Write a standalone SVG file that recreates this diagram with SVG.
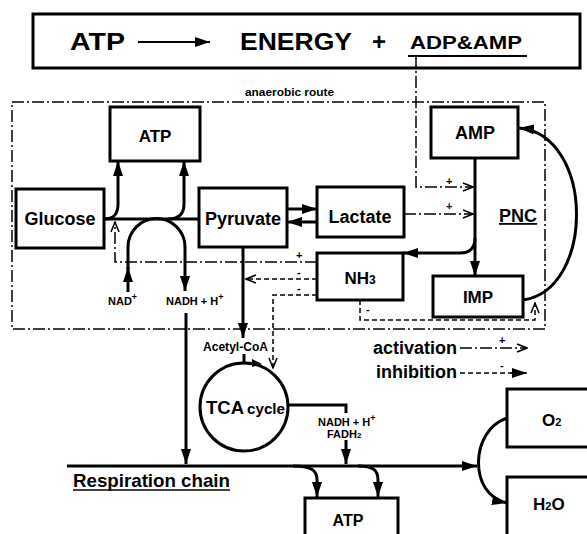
<svg xmlns="http://www.w3.org/2000/svg" width="587" height="534" viewBox="0 0 587 534">
<style>
text{font-family:"Liberation Sans",Arial,sans-serif;font-weight:bold;fill:#000}
.box{fill:#fff;stroke:#000;stroke-width:3}
.thick{fill:none;stroke:#000;stroke-width:3}
.thin{fill:none;stroke:#000;stroke-width:1.5}
.dd{fill:none;stroke:#000;stroke-width:1.5;stroke-dasharray:12 3 2 3}
.ds{fill:none;stroke:#000;stroke-width:1.5;stroke-dasharray:5 3}
.lbl{font-size:18px}
.sm{font-size:11px}
.sign{font-size:11px}
</style>
<defs>
<marker id="fa" markerUnits="userSpaceOnUse" markerWidth="16" markerHeight="10" refX="15" refY="5" orient="auto">
<path d="M0,0 L15,5 L0,10 Z" fill="#000"/>
</marker>
<marker id="oa" markerUnits="userSpaceOnUse" markerWidth="12" markerHeight="10" refX="11" refY="5" orient="auto">
<path d="M1,1 L11,5 L1,9" fill="none" stroke="#000" stroke-width="1.5"/>
</marker>
</defs>
<rect width="587" height="534" fill="#fff"/>

<g id="top-box">
<rect x="33" y="14" width="547" height="54" class="box"/>
<text x="70" y="50" font-size="24" textLength="55" lengthAdjust="spacingAndGlyphs">ATP</text>
<text x="240" y="50" font-size="24" textLength="112" lengthAdjust="spacingAndGlyphs">ENERGY</text>
<text x="372" y="50" font-size="24">+</text>
<text x="410" y="49" font-size="19" textLength="112" lengthAdjust="spacingAndGlyphs">ADP&amp;AMP</text>
<line x1="408" y1="56" x2="527" y2="56" stroke="#000" stroke-width="2"/>
</g>

<g id="anaerobic-route">
<rect x="12" y="102" width="533" height="227" class="dd"/>
<text x="245" y="96" font-size="10" textLength="89" lengthAdjust="spacingAndGlyphs">anaerobic route</text>
</g>

<g id="connectors">
<line x1="138" y1="42" x2="210" y2="42" stroke="#000" stroke-width="2" marker-end="url(#fa)"/>
<path d="M416,56 V187 H473" class="dd" marker-end="url(#oa)"/>
<text x="446" y="185" class="sign">+</text>
<path d="M404,214 H473" class="dd" marker-end="url(#oa)"/>
<text x="446" y="210" class="sign">+</text>
<path d="M104,219 H199" class="thick"/>
<path d="M104,219 C114,219 118,214 118,204 V161" class="thick" marker-end="url(#fa)"/>
<path d="M168,219 C179,219 184,214 184,204 V161" class="thick" marker-end="url(#fa)"/>
<path d="M128,292 V267" class="thick" marker-end="url(#fa)"/>
<path d="M128,270 V247 A28.5,28.5 0 0 1 185,247 V291" class="thick" marker-end="url(#fa)"/>
<path d="M287,209 H317" class="thick" marker-end="url(#fa)"/>
<path d="M317,222 H287" class="thick" marker-end="url(#fa)"/>
<path d="M317,262 H115 V222" class="dd" marker-end="url(#oa)"/>
<text x="296" y="259" class="sign">+</text>
<path d="M317,279 H246" class="ds" marker-end="url(#oa)"/>
<text x="297" y="276" class="sign">-</text>
<path d="M317,295 H273 V368" class="ds" marker-end="url(#oa)"/>
<text x="297" y="292" class="sign">-</text>
<path d="M243,247 V338" class="thick" marker-end="url(#fa)"/>
<path d="M244,354 V363" class="thick"/>
<path d="M475,158 V276" class="thick" marker-end="url(#fa)"/>
<path d="M475,238 Q475,253 460,253 H403" class="thick" marker-end="url(#fa)"/>
<path d="M523,300 C595,290 595,135 519,128" class="thick" marker-end="url(#fa)"/>
<path d="M360,300 V320 H535 V303" class="ds" marker-end="url(#oa)"/>
<text x="366" y="313" class="sign">-</text>
<path d="M288,405 H346 V413" class="thick"/>
<path d="M346,440 V464" class="thick" marker-end="url(#fa)"/>
<path d="M186,313 V464" class="thick" marker-end="url(#fa)"/>
<path d="M67,466 H477" class="thick" marker-end="url(#fa)"/>
<path d="M293,466 C311,466 317,470 317,480 V497" class="thick" marker-end="url(#fa)"/>
<path d="M358,466 C373,466 378,470 378,480 V497" class="thick" marker-end="url(#fa)"/>
<path d="M507,418 C470,430 468,495 507,503" class="thick" marker-end="url(#fa)"/>
<path d="M460,348 H527" class="dd" marker-end="url(#oa)"/>
<text x="499" y="344" class="sign">+</text>
<path d="M460,373 H514" class="ds"/>
<path d="M511,373 H527" stroke="#000" stroke-width="1.5" marker-end="url(#fa)"/>
<text x="500" y="369" class="sign">-</text>
</g>

<g id="atp-top">
<rect x="110" y="107" width="90" height="54" class="box"/>
<text x="155" y="142" font-size="17" text-anchor="middle">ATP</text>
</g>
<g id="glucose">
<rect x="16" y="189" width="88" height="59" class="box"/>
<text x="60" y="225" class="lbl" text-anchor="middle">Glucose</text>
</g>
<g id="pyruvate">
<rect x="199" y="188" width="88" height="59" class="box"/>
<text x="243" y="225" class="lbl" text-anchor="middle">Pyruvate</text>
</g>
<g id="lactate">
<rect x="317" y="187" width="87" height="50" class="box"/>
<text x="360" y="223" class="lbl" text-anchor="middle">Lactate</text>
</g>
<g id="nh3">
<rect x="317" y="253" width="86" height="47" class="box"/>
<text x="360" y="284" font-size="17" text-anchor="middle">NH<tspan font-size="12">3</tspan></text>
</g>
<g id="amp">
<rect x="431" y="107" width="87" height="51" class="box"/>
<text x="475" y="139" class="lbl" text-anchor="middle">AMP</text>
</g>
<g id="imp">
<rect x="433" y="276" width="90" height="41" class="box"/>
<text x="478" y="303" font-size="17" text-anchor="middle">IMP</text>
</g>
<g id="pnc">
<text x="499" y="222" font-size="18" text-decoration="underline">PNC</text>
</g>
<g id="labels">
<text x="108" y="305" class="sm">NAD<tspan dy="-5" font-size="9">+</tspan></text>
<text x="166" y="305" class="sm">NADH + H<tspan dy="-5" font-size="9">+</tspan></text>
<text x="203" y="351" font-size="12" textLength="65" lengthAdjust="spacingAndGlyphs">Acetyl-CoA</text>
<text x="318" y="426" class="sm">NADH + H<tspan dy="-5" font-size="9">+</tspan></text>
<text x="327" y="438" class="sm">FADH<tspan font-size="8">2</tspan></text>
</g>
<g id="tca">
<circle cx="244" cy="407" r="44" class="thick"/>
<path d="M252,359 L262,364 L252,367 Z" fill="#000"/>
<text x="206" y="414" font-size="19" textLength="38" lengthAdjust="spacingAndGlyphs">TCA</text>
<text x="247" y="414" font-size="14" textLength="38" lengthAdjust="spacingAndGlyphs">cycle</text>
</g>
<g id="respiration-chain">
<text x="73" y="487" font-size="18.5" textLength="157" lengthAdjust="spacingAndGlyphs">Respiration chain</text>
<line x1="73" y1="490" x2="230" y2="490" stroke="#000" stroke-width="1.5"/>
</g>
<g id="atp-bottom">
<rect x="305" y="498" width="93" height="45" class="box"/>
<text x="348" y="526" font-size="16" text-anchor="middle">ATP</text>
</g>
<g id="o2">
<rect x="507" y="389" width="90" height="58" class="box"/>
<text x="542" y="426" font-size="17">O<tspan font-size="11">2</tspan></text>
</g>
<g id="h2o">
<rect x="507" y="477" width="90" height="70" class="box"/>
<text x="533" y="510" font-size="17">H<tspan font-size="11">2</tspan>O</text>
</g>
<g id="legend">
<text x="373" y="354" font-size="18" textLength="84" lengthAdjust="spacingAndGlyphs">activation</text>
<text x="376" y="378" font-size="18" textLength="81" lengthAdjust="spacingAndGlyphs">inhibition</text>
</g>
</svg>
